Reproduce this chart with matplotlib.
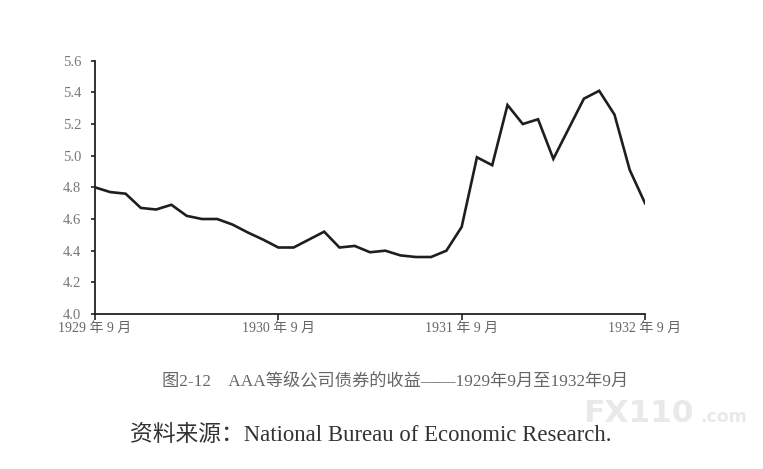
import matplotlib
matplotlib.use("Agg")
import matplotlib.pyplot as plt

# Monthly yields, Sep 1929 (month 0) .. Sep 1932 (month 36)
months = list(range(37))
yields = [4.80, 4.77, 4.76, 4.67, 4.66, 4.69, 4.62, 4.60, 4.60, 4.565,
          4.515, 4.47, 4.42, 4.42, 4.47, 4.52, 4.42, 4.43, 4.39, 4.40,
          4.37, 4.36, 4.36, 4.40, 4.55, 4.99, 4.94, 5.32, 5.20, 5.23,
          4.98, 5.17, 5.36, 5.41, 5.26, 4.91, 4.70]
xtick_pos = [0, 12, 24, 36]
xtick_labels = ["1929 年 9 月", "1930 年 9 月", "1931 年 9 月", "1932 年 9 月"]
ytick_vals = [4.0, 4.2, 4.4, 4.6, 4.8, 5.0, 5.2, 5.4, 5.6]
caption = "图2-12　AAA等级公司债券的收益——1929年9月至1932年9月"
source = "资料来源：National Bureau of Economic Research."

fam = ["Liberation Serif", "Noto Sans CJK SC"]

fig = plt.figure(figsize=(7.63, 4.69), dpi=100)
ax = fig.add_axes([95/763, 1-314/469, (645-95)/763, (314-60.7)/469])
ax.plot(months, yields, color="#1e1e1e", lw=1.9, solid_joinstyle="miter")
ax.set_xlim(0, 36)
ax.set_ylim(4.0, 5.6)
ax.set_xticks(xtick_pos)
ax.set_xticklabels(xtick_labels, family=fam, fontsize=10, color="#666666")
ax.set_yticks(ytick_vals)
ax.set_yticklabels([f"{v:.1f}" for v in ytick_vals], family=fam, fontsize=10.5, color="#777777")
for s in ["top", "right"]:
    ax.spines[s].set_visible(False)
for s in ["left", "bottom"]:
    ax.spines[s].set_linewidth(1.3)
    ax.spines[s].set_color("#222222")
ax.tick_params(axis="both", direction="out", length=4, width=1.2, color="#222222")
ax.tick_params(axis="y", pad=7, length=3)
ax.tick_params(axis="x", pad=2)

fig.text(395/763, 1-381/469, caption, ha="center", va="center", family=fam,
         fontsize=12.4, color="#666666")
fig.text(130/763, 1-435/469, source, ha="left", va="center", family=fam,
         fontsize=16.4, color="#333333")
fig.text(583/763, 1-413/469, "FX110", ha="left", va="center", family=["DejaVu Sans"],
         fontsize=22.5, fontweight="bold", color="#e9e9e9")
fig.text(747/763, 1-417/469, ".com", ha="right", va="center", family=["DejaVu Sans"],
         fontsize=12.5, fontweight="bold", color="#e9e9e9")

fig.savefig("out.png", dpi=100)
